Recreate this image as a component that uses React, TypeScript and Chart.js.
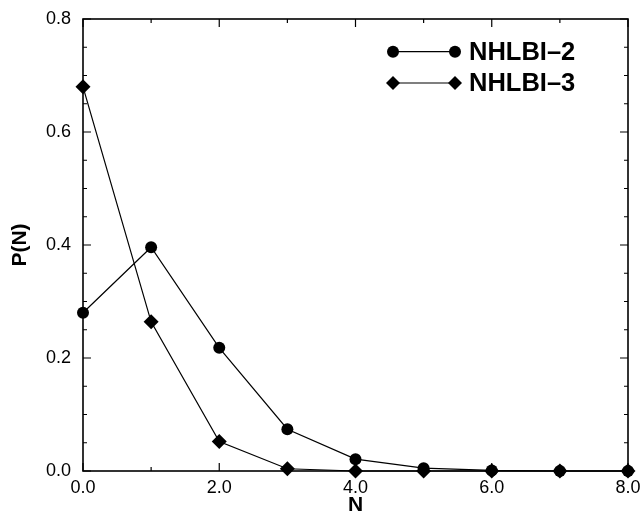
import React, { useEffect, useRef } from "react";
import { Chart, registerables } from "chart.js";

Chart.register(...registerables);

const nValues = [0, 1, 2, 3, 4, 5, 6, 7, 8];
const nhlbi2 = [0.28, 0.396, 0.218, 0.074, 0.021, 0.005, 0.001, 0.0, 0.0];
const nhlbi3 = [0.68, 0.264, 0.052, 0.004, 0.0, 0.0, 0.0, 0.0, 0.0];
const seriesLabels = ["NHLBI\u20132", "NHLBI\u20133"];
const xTitle = "N";
const yTitle = "P(N)";
const FONT = "'Liberation Sans', Arial, Helvetica, sans-serif";

const framePlugin = {
  id: "frameTicks",
  afterDraw(chart: any) {
    const ctx = chart.ctx;
    const { left, right, top, bottom } = chart.chartArea;
    const xs = chart.scales.x;
    const ys = chart.scales.y;
    ctx.save();
    ctx.strokeStyle = "#000";
    ctx.lineWidth = 1.6;
    ctx.strokeRect(left, top, right - left, bottom - top);
    ctx.lineWidth = 1.2;
    ctx.beginPath();
    for (let v = 0; v <= 8.0001; v += 1) {
      const px = xs.getPixelForValue(v);
      const len = Math.round(v) % 2 === 0 ? 8 : 4;
      ctx.moveTo(px, bottom);
      ctx.lineTo(px, bottom - len);
      ctx.moveTo(px, top);
      ctx.lineTo(px, top + len);
    }
    for (let i = 0; i <= 16; i++) {
      const v = i * 0.05;
      const py = ys.getPixelForValue(v);
      const len = i % 4 === 0 ? 8 : 4;
      ctx.moveTo(left, py);
      ctx.lineTo(left + len, py);
      ctx.moveTo(right, py);
      ctx.lineTo(right - len, py);
    }
    ctx.stroke();

    // legend
    const rows = [51.7, 83];
    chart.data.datasets.forEach((ds: any, i: number) => {
      const y = rows[i];
      const x1 = 393;
      const x2 = 455;
      ctx.lineWidth = 1.2;
      ctx.beginPath();
      ctx.moveTo(x1, y);
      ctx.lineTo(x2, y);
      ctx.stroke();
      ctx.fillStyle = "#000";
      [x1, x2].forEach((x) => {
        ctx.beginPath();
        if (ds.pointStyle === "circle") {
          ctx.arc(x, y, 6, 0, Math.PI * 2);
        } else {
          const r = 7;
          ctx.moveTo(x - r, y);
          ctx.lineTo(x, y - r);
          ctx.lineTo(x + r, y);
          ctx.lineTo(x, y + r);
          ctx.closePath();
        }
        ctx.fill();
      });
      ctx.font = `bold 25.5px ${FONT}`;
      ctx.textAlign = "left";
      ctx.textBaseline = "middle";
      ctx.fillText(ds.label, 469, y + 1);
    });
    ctx.restore();
  },
};

export default function App() {
  const ref = useRef<HTMLCanvasElement>(null);
  useEffect(() => {
    document.body.style.margin = "0";
    if (!ref.current) return;
    const chart = new Chart(ref.current, {
      type: "line",
      data: {
        datasets: [
          {
            label: seriesLabels[0],
            data: nValues.map((x, i) => ({ x, y: nhlbi2[i] })),
            borderColor: "#000",
            backgroundColor: "#000",
            borderWidth: 1.2,
            pointStyle: "circle",
            pointRadius: 6,
            pointHoverRadius: 6,
            pointBorderWidth: 0,
            clip: false,
          } as any,
          {
            label: seriesLabels[1],
            data: nValues.map((x, i) => ({ x, y: nhlbi3[i] })),
            borderColor: "#000",
            backgroundColor: "#000",
            borderWidth: 1.2,
            pointStyle: "rectRot",
            pointRadius: 7.5,
            pointHoverRadius: 7.5,
            pointBorderWidth: 0,
            clip: false,
          } as any,
        ],
      },
      options: {
        animation: false,
        responsive: false,
        maintainAspectRatio: false,
        layout: { padding: { top: 19, right: 12, left: 0, bottom: 0 } },
        plugins: { legend: { display: false }, tooltip: { enabled: false } },
        scales: {
          x: {
            type: "linear",
            min: 0,
            max: 8,
            grid: { display: false, drawTicks: false },
            border: { display: false },
            ticks: {
              stepSize: 2,
              padding: 6,
              color: "#000",
              font: { family: FONT, size: 18 },
              maxRotation: 0,
              callback: (v: any) => Number(v).toFixed(1),
            },
            title: {
              display: true,
              text: xTitle,
              color: "#000",
              font: { family: FONT, size: 21, weight: "bold" },
              padding: { top: -9, bottom: 0 },
            },
            afterFit: (s: any) => {
              s.height = 47;
              s.paddingLeft = 0;
              s.paddingRight = 0;
            },
          },
          y: {
            type: "linear",
            min: 0,
            max: 0.8,
            grid: { display: false, drawTicks: false },
            border: { display: false },
            ticks: {
              stepSize: 0.2,
              padding: 12,
              color: "#000",
              font: { family: FONT, size: 18 },
              callback: (v: any) => Number(v).toFixed(1),
            },
            title: {
              display: true,
              text: yTitle,
              color: "#000",
              font: { family: FONT, size: 21, weight: "bold" },
              padding: { top: 8, bottom: 0 },
            },
            afterFit: (s: any) => {
              s.width = 83;
              s.paddingTop = 0;
              s.paddingBottom = 0;
            },
          },
        },
      } as any,
      plugins: [framePlugin],
    });
    return () => chart.destroy();
  }, []);
  return (
    <div style={{ width: 640, height: 518, background: "#fff" }}>
      <canvas ref={ref} width={640} height={518} style={{ display: "block" }} />
    </div>
  );
}
